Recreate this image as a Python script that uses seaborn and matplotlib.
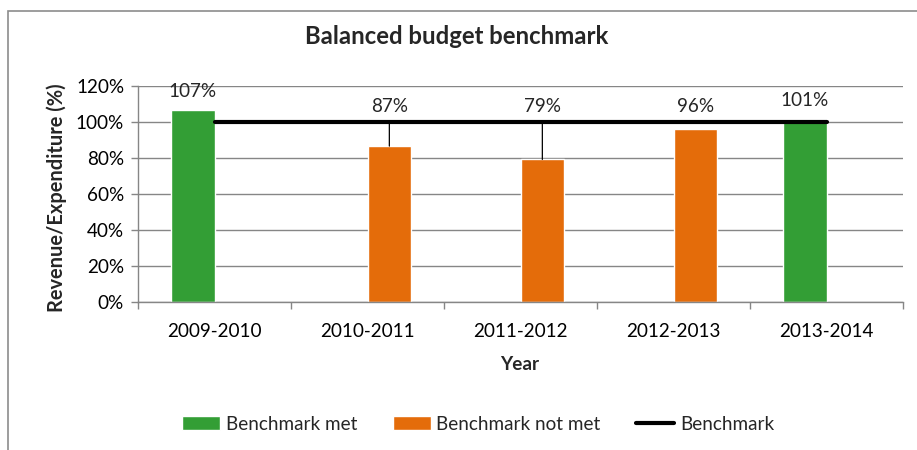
import matplotlib
matplotlib.use("Agg")
import matplotlib.pyplot as plt
import seaborn as sns
import pandas as pd
from matplotlib.ticker import PercentFormatter, FixedLocator
from matplotlib.patches import Rectangle

# ---- data ----
years = ["2009-2010", "2010-2011", "2011-2012", "2012-2013", "2013-2014"]
ratios = [1.066, 0.866, 0.792, 0.961, 1.007]
status = ["Benchmark met", "Benchmark not met", "Benchmark not met",
          "Benchmark not met", "Benchmark met"]
benchmark = [1.0, 1.0, 1.0, 1.0, 1.0]
status_order = ["Benchmark met", "Benchmark not met"]
yticks = [0, 0.2, 0.4, 0.6, 0.8, 1.0, 1.2]

# ---- layout / style ----
label_y = [1.168, 1.085, 1.085, 1.085, 1.118]
leader = [False, True, True, False, False]
GREEN = "#339E35"
ORANGE = "#E46C0A"
GRID = "#868686"
FS = 13.6

sns.set_theme(style="white")
plt.rcParams["font.family"] = ["Lato", "DejaVu Sans"]

W, H = 917, 450
fig = plt.figure(figsize=(W / 100, H / 100), dpi=100)
ax = fig.add_axes([138 / W, 1 - 302 / H, (903 - 138) / W, (302 - 86) / H])

df = pd.DataFrame({"year": years, "ratio": ratios, "status": status})
sns.barplot(data=df, x="year", y="ratio", hue="status", hue_order=status_order,
            palette=[GREEN, ORANGE], width=0.571, dodge=True, saturation=1,
            ax=ax, zorder=2)
sns.lineplot(x=list(range(len(years))), y=benchmark, color="black", lw=3,
             label="Benchmark", ax=ax, zorder=4)

ax.set_xlim(-0.5, len(years) - 0.5)
ax.set_ylim(0, 1.2)
ax.yaxis.set_major_locator(FixedLocator(yticks))
ax.yaxis.set_major_formatter(PercentFormatter(1.0, decimals=0))
ax.set_xticks(range(len(years)))
ax.set_xticklabels(years)
ax.set_xticks([i - 0.5 for i in range(len(years) + 1)], minor=True)
ax.tick_params(axis="x", which="major", length=0, pad=15, labelsize=FS, colors="black")
ax.tick_params(axis="x", which="minor", length=5, width=1, color=GRID, bottom=True)
ax.tick_params(axis="y", length=5, width=1, color=GRID, left=True, pad=5,
               labelsize=FS, labelcolor="black")
ax.grid(axis="y", color=GRID, lw=1, zorder=0)
ax.set_axisbelow(True)
for s in ["top", "right"]:
    ax.spines[s].set_visible(False)
for s in ["left", "bottom"]:
    ax.spines[s].set_color(GRID)
    ax.spines[s].set_linewidth(1)
ax.set_xlabel("")
ax.set_ylabel("")

# data labels
bars = sorted([p for p in ax.patches if p.get_height() > 0], key=lambda p: p.get_x())
for i, p in enumerate(bars):
    cx = p.get_x() + p.get_width() / 2
    v = p.get_height()
    txt = f"{ratios[i]:.0%}"
    if leader[i]:
        ax.annotate(txt, xy=(cx, v), xytext=(cx, label_y[i]), ha="center", va="center",
                    fontsize=FS, arrowprops=dict(arrowstyle="-", color="black", lw=0.9,
                                                 shrinkA=3, shrinkB=0), zorder=5)
    else:
        ax.text(cx, label_y[i], txt, ha="center", va="center", fontsize=FS, zorder=5)

# legend
handles, labels = ax.get_legend_handles_labels()
if ax.get_legend() is not None:
    ax.get_legend().remove()
fig.legend(handles, labels, loc="center", bbox_to_anchor=(478 / W, 1 - 424 / H),
           ncol=3, frameon=False, fontsize=FS, handlelength=2.0, handleheight=0.7,
           handletextpad=0.3, columnspacing=1.9)

fig.text(457 / W, 1 - 37 / H, "Balanced budget benchmark", ha="center", va="center",
         fontsize=17.2, fontweight="bold")
fig.text(57 / W, 1 - 198 / H, "Revenue/Expenditure (%)", ha="center", va="center",
         rotation=90, fontsize=14.4, fontweight="bold")
fig.text(520 / W, 1 - 365 / H, "Year", ha="center", va="center",
         fontsize=FS, fontweight="bold")

# chart border (cropped at right/bottom)
fig.patches.append(Rectangle((8 / W, -0.1), 1.2, 1 - 11 / H + 0.1, transform=fig.transFigure,
                             fill=False, edgecolor="#8C8C8C", lw=1.2))

fig.savefig("out.png", dpi=100)
